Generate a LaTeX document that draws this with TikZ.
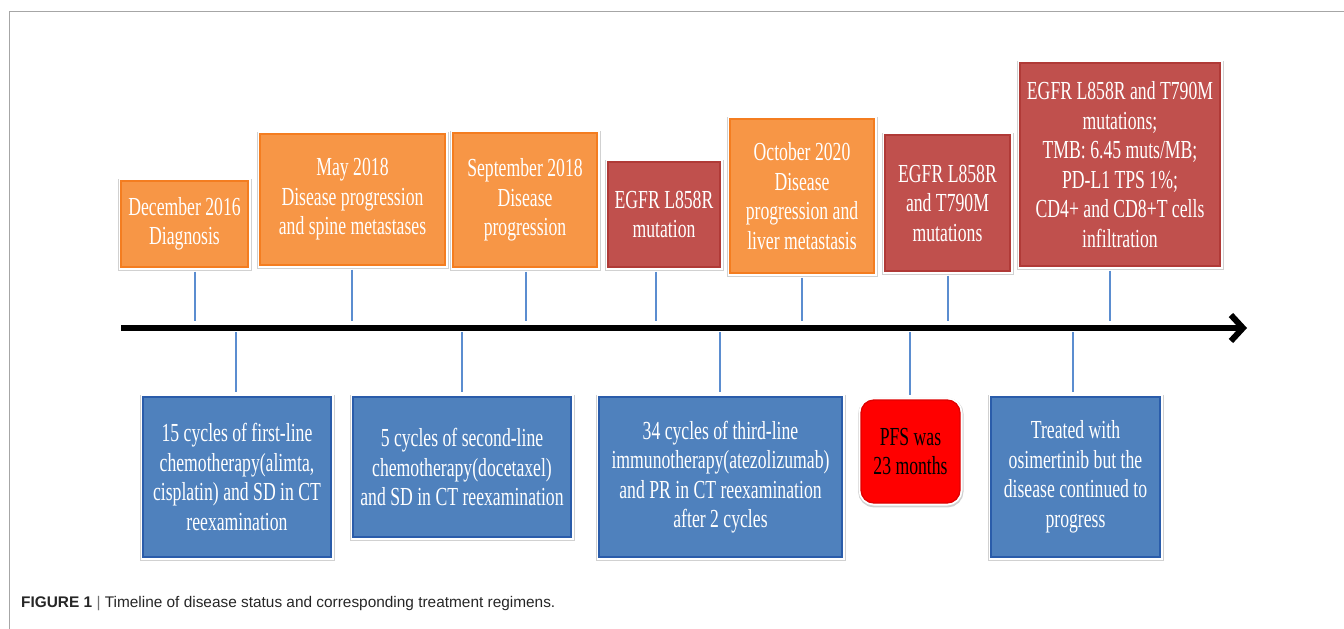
\documentclass[tikz,border=0pt]{standalone}
\usepackage{fontspec}
\setmainfont{Liberation Serif}
\newfontfamily\boxfont{Liberation Serif}[FakeStretch=0.68]
\newfontfamily\capfont{Liberation Sans}
\usetikzlibrary{arrows.meta}
\definecolor{orfill}{HTML}{F79646}
\definecolor{ordraw}{HTML}{F47D20}
\definecolor{rdfill}{HTML}{C0504D}
\definecolor{rddraw}{HTML}{B03A37}
\definecolor{blfill}{HTML}{4F81BD}
\definecolor{bldraw}{HTML}{2A5CAA}
\definecolor{pfsfill}{HTML}{FF0000}
\definecolor{pfsdraw}{HTML}{E00000}
\definecolor{connc}{HTML}{5B8DD0}
\definecolor{framec}{HTML}{A6A6A6}
\tikzset{
  evt/.style={rectangle, align=center, inner sep=0pt,
    font=\boxfont\fontsize{26}{29.5}\selectfont, text=white, line width=1.3pt,
    preaction={draw=black!18, line width=6.5pt, transform canvas={xshift=0.3pt,yshift=-1.2pt}},
    preaction={draw=white, line width=5pt}},
  orbox/.style={evt, fill=orfill, draw=ordraw},
  rdbox/.style={evt, fill=rdfill, draw=rddraw},
  blbox/.style={evt, fill=blfill, draw=bldraw},
  pfsbox/.style={evt, fill=pfsfill, draw=pfsdraw, rounded corners=13pt, text=black},
  conn/.style={draw=connc, line width=1.2pt},
  timeaxis/.style={line width=6pt, -{Straight Barb[length=12pt,width=26pt]}},
  framel/.style={draw=framec, line width=1pt}
}
\begin{document}
\begin{tikzpicture}[x=1pt,y=-1pt]
\useasboundingbox (0,0) rectangle (1344,629);
% frame
\coordinate (fr1) at (9,629);
\coordinate (fr2) at (9,11);
\coordinate (fr3) at (1344,11);
\draw[framel] (fr1) -- (fr2) -- (fr3);
% axis
\coordinate (axs) at (121,328);
\coordinate (axe) at (1247,328);
\draw[timeaxis] (axs) -- (axe);
% top boxes
\node[orbox, minimum width=127, minimum height=86] (d1) at (184.5,224) {December 2016\\Diagnosis};
\node[orbox, minimum width=185, minimum height=131] (d2) at (352.5,199.5) {May 2018\\Disease progression\\and spine metastases};
\node[orbox, minimum width=144, minimum height=134] (d3) at (525,200) {September 2018\\Disease\\progression};
\node[rdbox, minimum width=112, minimum height=105] (d4) at (664,214.5) {EGFR L858R\\mutation};
\node[orbox, minimum width=144, minimum height=154] (d5) at (802,196) {October 2020\\Disease\\progression and\\liver metastasis};
\node[rdbox, minimum width=125, minimum height=136] (d6) at (947.5,203) {EGFR L858R\\and T790M\\mutations};
\node[rdbox, minimum width=200, minimum height=203] (d7) at (1120,164.5) {EGFR L858R and T790M\\mutations;\\TMB: 6.45 muts/MB;\\PD-L1 TPS 1\%;\\CD4+ and CD8+T cells\\infiltration};
% bottom boxes
\node[blbox, minimum width=188, minimum height=160] (b1) at (237,477) {15 cycles of first-line\\chemotherapy(alimta,\\cisplatin) and SD in CT\\reexamination};
\node[blbox, minimum width=218, minimum height=140] (b2) at (462,467) {5 cycles of second-line\\chemotherapy(docetaxel)\\and SD in CT reexamination};
\node[blbox, minimum width=243, minimum height=160] (b3) at (720.5,477) {34 cycles of third-line\\immunotherapy(atezolizumab)\\and PR in CT reexamination\\after 2 cycles};
\node[pfsbox, minimum width=99, minimum height=103] (b4) at (910.5,451.5) {PFS was\\23 months};
\node[blbox, minimum width=169, minimum height=160] (b5) at (1075.5,477) {Treated with\\osimertinib but the\\disease continued to\\progress};
% axis anchor points
\coordinate (p1) at (195,328);
\coordinate (p2) at (352,328);
\coordinate (p3) at (526,328);
\coordinate (p4) at (656,328);
\coordinate (p5) at (802,328);
\coordinate (p6) at (948,328);
\coordinate (p7) at (1110,328);
\coordinate (q1) at (236,328);
\coordinate (q2) at (462,328);
\coordinate (q3) at (720,328);
\coordinate (q4) at (910,328);
\coordinate (q5) at (1073,328);
\foreach \n in {1,...,7}{
  \draw[conn, shorten <=4pt, shorten >=7pt] (p\n |- d\n.south) -- (p\n);
}
\foreach \n in {1,...,5}{
  \draw[conn, shorten <=4pt, shorten >=4pt] (q\n) -- (q\n |- b\n.north);
}
% caption
\node[anchor=base west, inner sep=0pt, font=\capfont\fontsize{15.4}{18}\selectfont, text=black!85] (cap) at (21,607)
  {\textbf{FIGURE 1} \textcolor{black!55}{|} Timeline of disease status and corresponding treatment regimens.};
\end{tikzpicture}
\end{document}
